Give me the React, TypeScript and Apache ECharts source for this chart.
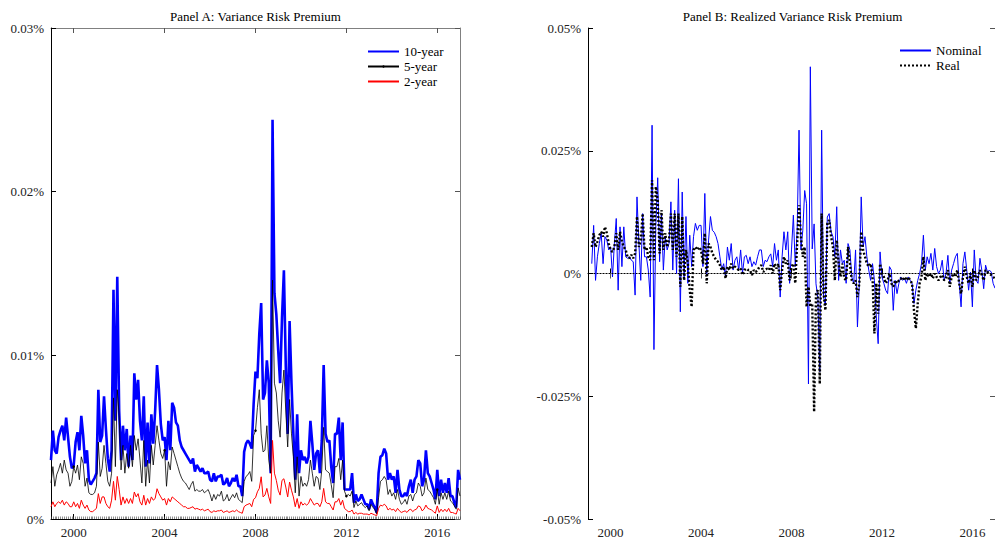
import React, { useEffect, useRef } from 'react';
import * as echarts from 'echarts';

// Values are in thousandths of a percent (1 unit = 0.001%).
const START_YEAR = 1999;
const MONTH_COUNT = 217; // Jan 1999 .. Jan 2017
const months: string[] = [];
for (let k = 0; k < MONTH_COUNT; k++) {
  const y = START_YEAR + Math.floor(k / 12);
  const m = (k % 12) + 1;
  months.push(`${y}-${m < 10 ? '0' + m : m}`);
}
const majorYearStep = 4;

// Panel A: Variance Risk Premium
const vrp10y = [
  3.6, 5.4, 4.2, 4.0, 5.0, 5.4, 5.7, 4.8, 6.2, 5.0, 3.8, 3.1,
  3.3, 4.7, 5.3, 4.2, 6.3, 5.1, 3.4, 4.2, 2.4, 2.1, 2.3, 2.5,
  2.8, 7.9, 4.7, 5.1, 7.5, 5.5, 3.7, 2.9, 4.2, 14.0, 6.0, 14.8,
  6.6, 3.6, 5.7, 4.2, 5.5, 3.2, 5.1, 3.6, 8.9, 7.3, 8.5, 6.0,
  4.8, 7.5, 3.2, 5.9, 3.4, 6.4, 4.6, 6.6, 9.4, 7.9, 5.8, 4.8,
  5.0, 3.6, 6.0, 4.2, 7.1, 6.8, 5.9, 5.7, 4.8, 4.4, 4.2, 4.0,
  3.8, 3.6, 3.4, 3.7, 2.9, 3.3, 3.1, 2.9, 3.1, 2.8, 2.8, 2.9,
  2.4, 2.3, 2.8, 2.3, 2.6, 2.6, 2.7, 2.1, 2.2, 2.5, 2.0, 2.2,
  2.5, 2.3, 2.7, 2.0, 2.0, 1.4, 4.1, 4.6, 4.8, 4.6, 4.3, 7.0,
  9.0, 8.6, 11.3, 13.2, 7.3, 7.7, 9.7, 8.3, 2.8, 24.4, 13.8, 12.5,
  10.3, 8.3, 12.3, 15.2, 9.3, 5.2, 12.1, 8.3, 5.2, 2.4, 6.4, 2.8,
  4.2, 3.6, 3.8, 3.4, 3.8, 6.0, 4.6, 3.0, 4.0, 4.2, 2.8, 4.8,
  9.4, 5.2, 4.7, 4.8, 3.2, 2.2, 5.2, 5.2, 6.2, 3.6, 5.9, 1.8,
  1.8, 1.8, 1.8, 2.8, 1.0, 1.5, 1.1, 1.2, 1.5, 1.2, 0.9, 0.9,
  0.6, 1.2, 0.9, 0.7, 0.4, 2.8, 3.8, 3.9, 4.3, 4.0, 2.4, 2.8,
  2.4, 2.6, 1.6, 3.0, 1.8, 1.4, 1.4, 1.6, 1.4, 2.0, 2.4, 1.6,
  2.4, 2.6, 3.6, 3.4, 2.0, 2.4, 4.2, 2.8, 2.6, 2.2, 1.8, 1.2,
  3.0, 1.4, 2.4, 1.6, 2.2, 1.6, 2.5, 1.4, 1.4, 1.0, 0.7, 3.0,
  2.4,
];
const vrp5y = [
  2.2, 3.2, 2.0, 2.7, 3.0, 3.4, 2.8, 3.6, 3.0, 2.8, 2.0, 2.3,
  3.2, 2.8, 3.3, 2.4, 3.8, 3.4, 2.0, 2.5, 1.6, 1.5, 1.5, 1.6,
  2.0, 4.7, 2.6, 3.1, 4.5, 3.4, 2.3, 2.0, 2.8, 7.4, 3.2, 7.9,
  6.3, 3.0, 4.5, 2.8, 4.0, 3.1, 4.5, 3.2, 5.1, 4.2, 4.9, 3.6,
  2.2, 4.8, 2.0, 3.6, 2.2, 4.5, 3.3, 4.5, 5.7, 4.8, 4.0, 3.7,
  4.2, 2.0, 3.5, 3.0, 4.4, 4.0, 3.6, 3.2, 2.8, 2.5, 2.3, 2.2,
  2.0, 1.8, 2.1, 2.3, 1.7, 1.8, 1.7, 1.7, 1.8, 1.6, 1.7, 1.8,
  1.5, 1.1, 1.5, 1.2, 1.5, 1.4, 1.7, 1.1, 1.2, 1.5, 1.1, 1.3,
  1.5, 1.3, 1.6, 1.2, 1.1, 1.0, 2.3, 2.6, 2.7, 2.9, 2.3, 5.1,
  5.4, 6.8, 7.9, 5.2, 4.1, 4.2, 5.7, 3.6, 2.8, 14.6, 8.3, 7.7,
  6.0, 5.0, 7.7, 9.1, 6.6, 4.4, 7.3, 5.2, 3.8, 1.6, 3.8, 1.4,
  2.6, 2.0, 2.2, 2.0, 2.4, 3.6, 2.8, 2.0, 2.6, 2.5, 1.8, 3.0,
  5.6, 3.0, 2.9, 2.8, 2.1, 1.3, 3.2, 3.2, 3.7, 2.4, 3.6, 1.7,
  1.4, 1.5, 1.4, 1.7, 0.7, 1.1, 0.8, 0.9, 1.0, 0.8, 0.7, 0.8,
  0.5, 0.9, 0.7, 0.6, 0.3, 1.3, 2.3, 2.4, 2.6, 2.4, 1.5, 1.8,
  1.4, 1.6, 1.2, 1.8, 1.2, 0.9, 1.0, 1.2, 0.9, 1.4, 1.5, 1.1,
  1.5, 1.6, 2.2, 2.0, 1.4, 1.6, 2.5, 1.8, 1.7, 1.5, 1.3, 0.9,
  1.8, 0.9, 1.6, 1.2, 1.6, 1.2, 1.7, 1.1, 1.0, 0.8, 0.6, 1.9,
  1.4,
];
const vrp2y = [
  0.75, 1.05, 0.75, 0.95, 1.05, 0.95, 1.15, 0.85, 1.05, 0.95, 0.75, 0.75,
  1.05, 0.75, 0.95, 0.65, 1.15, 0.85, 0.65, 0.85, 0.55, 0.45, 0.45, 0.55,
  0.65, 1.55, 0.95, 1.35, 1.35, 0.95, 0.75, 0.65, 1.15, 2.3, 1.15, 2.6,
  1.8, 0.85, 1.35, 0.95, 1.25, 0.95, 1.25, 0.95, 1.65, 1.35, 1.55, 1.05,
  0.85, 1.45, 0.85, 1.25, 0.95, 1.35, 1.15, 1.25, 1.85, 1.55, 1.35, 1.15,
  1.25, 0.85, 1.25, 1.05, 1.35, 1.25, 1.15, 1.05, 0.95, 0.85, 0.75, 0.75,
  0.65, 0.65, 0.7, 0.75, 0.6, 0.65, 0.6, 0.55, 0.6, 0.5, 0.55, 0.6,
  0.45, 0.4, 0.5, 0.45, 0.5, 0.5, 0.55, 0.4, 0.45, 0.5, 0.4, 0.45,
  0.5, 0.45, 0.55, 0.45, 0.4, 0.35, 0.75, 0.85, 0.9, 0.95, 0.75, 1.2,
  1.3, 1.66, 1.87, 2.58, 1.35, 1.46, 1.87, 1.35, 0.95, 4.8, 2.8, 2.36,
  1.76, 1.46, 2.36, 2.46, 1.95, 1.35, 2.26, 1.76, 1.35, 0.75, 1.25, 0.65,
  1.05, 0.85, 0.95, 0.85, 0.95, 1.25, 1.05, 0.85, 0.95, 0.95, 0.75, 1.05,
  1.87, 1.05, 0.95, 0.95, 0.75, 0.55, 1.05, 1.05, 1.25, 0.85, 1.15, 0.65,
  0.55, 0.45, 0.45, 0.55, 0.3, 0.4, 0.3, 0.35, 0.35, 0.3, 0.3, 0.3,
  0.25, 0.35, 0.3, 0.25, 0.2, 0.65, 0.85, 0.8, 0.9, 0.8, 0.55, 0.65,
  0.55, 0.6, 0.45, 0.65, 0.5, 0.4, 0.45, 0.5, 0.4, 0.55, 0.6, 0.45,
  0.55, 0.6, 0.8, 0.75, 0.5, 0.6, 0.85, 0.65, 0.6, 0.55, 0.45, 0.35,
  0.8, 0.4, 0.6, 0.45, 0.6, 0.45, 0.65, 0.4, 0.4, 0.35, 0.3, 0.65,
  0.5,
];

// Panel B: Realized Variance Risk Premium
const rvrpNominal = [
  null, null, 2.0, 9.8, -1.4, 3.4, 6.1, 8.2, 2.0, 7.5, 6.8, 4.8,
  5.4, -0.7, 6.1, 11.2, -3.4, 9.5, 1.4, 9.5, 3.4, 3.1, 3.4, 2.7,
  2.4, -4.4, 15.6, 6.1, -1.4, 12.2, 3.4, 3.4, 0.7, -4.8, 30.2, -15.5,
  10.0, 19.5, 2.4, 12.2, 0.7, 7.5, 4.8, 6.1, 14.6, 0.7, 12.9, 0,
  19.3, -7.8, 16.6, -0.7, 11.6, -2.0, 7.8, 1.4, 7.5, 10.2, 8.8, 9.8,
  9.8, 1.4, 16.3, 0, 6.8, 11.6, 8.8, 8.4, 7.5, 6.1, 3.4, 0.7,
  2.0, -0.7, 5.4, 2.7, 6.1, 0.7, 2.7, 3.4, 0.7, 4.8, 0, 3.4,
  3.7, 2.0, 3.4, 1.4, 2.4, 1.7, 3.4, 4.8, 4.8, 1.4, 2.7, 2.4,
  3.4, 4.0, 1.4, 6.1, 2.7, 4.8, -4.8, 3.4, 8.5, 4.8, 8.5, -2.0,
  4.8, 11.9, 1.4, 8.8, 29.2, 4.8, 8.8, 16.9, 14.2, -22.5, 42.1, 5.0,
  10.1, -2.1, -5.0, -20.0, 29.2, -4.8, -6.5, 11.5, 12.2, 8.5, 7.5, 3.4,
  13.6, -1.4, 4.8, 2.0, 2.7, -2.0, 6.1, 4.8, -0.7, -2.0, 4.8, -10.9,
  -2.0, 15.6, 5.4, 7.5, 3.4, 0.7, -1.4, 2.0, -1.4, -8.8, -14.3, 4.4,
  -0.7, -2.0, -3.4, -4.1, 1.4, 0.7, -7.5, -1.4, -4.1, -2.0, -0.7, -1.4,
  -1.0, -2.0, -0.7, -1.4, -2.0, -6.1, -3.4, -1.4, 0, 2.0, 7.8, 0.7,
  3.4, 2.0, 4.1, 0.7, 5.1, 1.4, 0, 0.7, 2.7, -1.4, 0, 3.7,
  -2.0, 0.7, 2.0, 3.4, 4.1, -2.0, -6.8, 2.0, 4.4, 0.7, -3.4, 0.3,
  -6.8, 4.8, -1.4, -2.0, 3.1, 0.7, -3.1, 1.7, 0.3, 0.7, 0.3, -2.0,
  -3.0,
];
const rvrpReal = [
  null, null, 5.4, 8.2, 5.4, 6.5, 7.8, 8.5, 7.5, 9.5, 8.2, 6.1,
  4.8, 4.4, 5.4, 8.2, 4.8, 8.5, 6.5, 5.4, 4.8, 3.4, 3.1, 3.8,
  3.1, 4.1, 11.6, 5.4, 6.8, 12.2, 4.8, 5.4, 3.4, 2.7, 19.0, 2.7,
  17.7, 14.9, 4.1, 12.9, 4.8, 8.2, 5.4, 6.8, 12.2, 4.8, 12.2, 3.4,
  12.2, -2.7, 11.6, -1.4, 4.8, 2.0, -3.4, -6.8, 4.8, 5.4, 4.8, 5.4,
  4.8, 2.0, 8.2, -2.0, 6.1, 5.4, 4.1, 3.4, 2.7, 2.4, 1.7, 0.7,
  1.4, -1.0, 1.4, 0.7, 2.0, 1.0, 1.4, 1.0, 0.7, 1.0, -0.3, 0.7,
  1.0, 0.7, 0.7, -0.3, 0.7, 0.3, 0.7, 1.4, 1.7, 0.3, 0.7, 1.0,
  0.7, 1.7, 0, 2.0, 1.0, 2.0, -3.4, 0.7, 3.4, 2.0, 2.7, -1.4,
  1.4, 2.0, -2.0, 6.1, 13.9, 7.5, 3.4, 5.4, -6.8, -2.7, -6.8, -6.1,
  -28.2, -4.1, -3.4, -22.5, 12.2, -4.1, -7.5, 10.2, 10.9, 7.5, 5.4, -1.4,
  6.8, 2.0, -0.7, 2.0, -1.0, -1.4, 5.4, 2.0, -1.4, -2.0, -1.4, -4.8,
  -2.0, 8.5, 4.8, 3.4, 2.0, 1.4, 2.0, -0.7, -12.2, -2.0, -8.2, 2.0,
  0, -0.7, -2.0, -1.4, 0, -2.0, -2.7, -1.4, -2.0, -1.4, -1.0, -1.4,
  -0.7, -1.4, -0.7, -1.4, -2.0, -7.5, -11.2, -6.1, -2.0, -0.7, 3.4, -1.4,
  0, -0.7, 0, -1.0, 0, -0.7, -1.4, -0.7, -0.3, -1.4, -1.0, 0.7,
  -2.7, -0.7, 0, -0.7, 0.7, -2.0, -4.1, -0.7, 1.4, -0.7, -2.0, 0,
  -2.7, 0.7, -1.4, -0.7, 0.7, -0.3, -1.4, 0.7, 0.3, 0, -0.3, -0.7,
  -1.0,
];

const yTicksA = { min: 0, max: 30, interval: 10 };
const yTicksB = { min: -50, max: 50, interval: 25 };

const SERIF = 'Liberation Serif';

const isMajor = (_i: number, v: string) =>
  v.endsWith('-01') && Number(v.slice(0, 4)) % majorYearStep === 0;
const pctLabel = (v: number) => (v === 0 ? '0%' : `${parseFloat((v / 1000).toFixed(6))}%`);

function xAxes(gridIndex: number, minor: boolean) {
  const axes: any[] = [
    {
      type: 'category', gridIndex, data: months, boundaryGap: false, position: 'bottom',
      axisLine: { show: true, lineStyle: { color: '#000', width: 1 } },
      axisTick: { show: true, inside: true, length: 5, interval: isMajor, lineStyle: { color: '#000', width: 1 } },
      axisLabel: { show: true, interval: isMajor, formatter: (v: string) => v.slice(0, 4), color: '#222', fontFamily: SERIF, fontSize: 13, margin: 7 },
      splitLine: { show: false },
    },
    {
      type: 'category', gridIndex, data: months, boundaryGap: false, position: 'top',
      axisLine: { show: true, lineStyle: { color: '#808080', width: 1 } },
      axisTick: { show: true, inside: true, length: 5, interval: isMajor, lineStyle: { color: '#555', width: 1 } },
      axisLabel: { show: false },
      splitLine: { show: false },
    },
  ];
  if (minor) {
    axes.splice(1, 0, {
      type: 'category', gridIndex, data: months, boundaryGap: false, position: 'bottom',
      axisLine: { show: false },
      axisTick: { show: true, inside: true, length: 2.5, interval: 0, lineStyle: { color: '#444', width: 0.6 } },
      axisLabel: { show: false },
      splitLine: { show: false },
    });
  }
  return axes;
}

function yAxes(gridIndex: number, t: { min: number; max: number; interval: number }) {
  return [
    {
      type: 'value', gridIndex, position: 'left', ...t,
      axisLine: { show: true, lineStyle: { color: '#000', width: 1 } },
      axisTick: { show: true, inside: true, length: 5, lineStyle: { color: '#000' } },
      axisLabel: { formatter: pctLabel, color: '#222', fontFamily: SERIF, fontSize: 13, margin: 7 },
      splitLine: { show: false },
    },
    {
      type: 'value', gridIndex, position: 'right', ...t,
      axisLine: { show: true, lineStyle: { color: '#808080', width: 1 } },
      axisTick: { show: true, inside: true, length: 5, lineStyle: { color: '#555' } },
      axisLabel: { show: false },
      splitLine: { show: false },
    },
  ];
}

const noMarker = { color: 'rgba(0,0,0,0)', borderWidth: 0, opacity: 0 };

export default function App() {
  const ref = useRef<HTMLDivElement>(null);
  useEffect(() => {
    if (!ref.current) return;
    const chart = echarts.init(ref.current, undefined, { renderer: 'svg' });
    const legendText = { fontFamily: SERIF, fontSize: 13, color: '#000' };
    const option: any = {
      animation: false,
      backgroundColor: '#fff',
      title: [
        { text: 'Panel A: Variance Risk Premium', left: 255.5, textAlign: 'center', top: 10, padding: 0,
          textStyle: { fontFamily: SERIF, fontSize: 13, fontWeight: 'normal', color: '#000' } },
        { text: 'Panel B: Realized Variance Risk Premium', left: 792.5, textAlign: 'center', top: 10, padding: 0,
          textStyle: { fontFamily: SERIF, fontSize: 13, fontWeight: 'normal', color: '#000' } },
      ],
      legend: [
        { data: [
            { name: '10-year', itemStyle: noMarker },
            { name: '5-year' },
            { name: '2-year', itemStyle: noMarker },
          ],
          orient: 'vertical', left: 367, top: 45, padding: 0,
          itemWidth: 31, itemHeight: 3, itemGap: 2, textStyle: legendText },
        { data: [
            { name: 'Nominal', itemStyle: noMarker },
            { name: 'Real', itemStyle: noMarker },
          ],
          orient: 'vertical', left: 899, top: 44, padding: 0,
          itemWidth: 31, itemHeight: 3, itemGap: 2, textStyle: legendText },
      ],
      grid: [
        { left: 51, top: 28, width: 409, height: 491 },
        { left: 588, top: 28, width: 409, height: 491 },
      ],
      xAxis: [...xAxes(0, true), ...xAxes(1, false)],
      yAxis: [...yAxes(0, yTicksA), ...yAxes(1, yTicksB)],
      series: [
        { name: '10-year', type: 'line', xAxisIndex: 0, yAxisIndex: 0, data: vrp10y, symbol: 'none',
          lineStyle: { color: '#0000ff', width: 2.6 }, itemStyle: { color: '#0000ff' } },
        { name: '5-year', type: 'line', xAxisIndex: 0, yAxisIndex: 0, data: vrp5y, symbol: 'circle', symbolSize: 2.6,
          showSymbol: true, lineStyle: { color: '#000', width: 0.8 }, itemStyle: { color: '#000' } },
        { name: '2-year', type: 'line', xAxisIndex: 0, yAxisIndex: 0, data: vrp2y, symbol: 'none',
          lineStyle: { color: '#ff0000', width: 1 }, itemStyle: { color: '#ff0000' } },
        { name: 'Nominal', type: 'line', xAxisIndex: 3, yAxisIndex: 2, data: rvrpNominal, symbol: 'none',
          lineStyle: { color: '#0000ff', width: 1 }, itemStyle: { color: '#0000ff' },
          markLine: { silent: true, symbol: 'none', label: { show: false },
            lineStyle: { color: '#000', type: [1, 2], width: 1 }, data: [{ yAxis: 0 }] } },
        { name: 'Real', type: 'line', xAxisIndex: 3, yAxisIndex: 2, data: rvrpReal, symbol: 'none',
          lineStyle: { color: '#000', width: 2.4, type: [2, 2] }, itemStyle: { color: '#000' } },
      ],
    };
    chart.setOption(option);
    return () => chart.dispose();
  }, []);
  return <div ref={ref} style={{ position: 'absolute', left: 0, top: 0, width: 995, height: 544, background: '#fff' }} />;
}
